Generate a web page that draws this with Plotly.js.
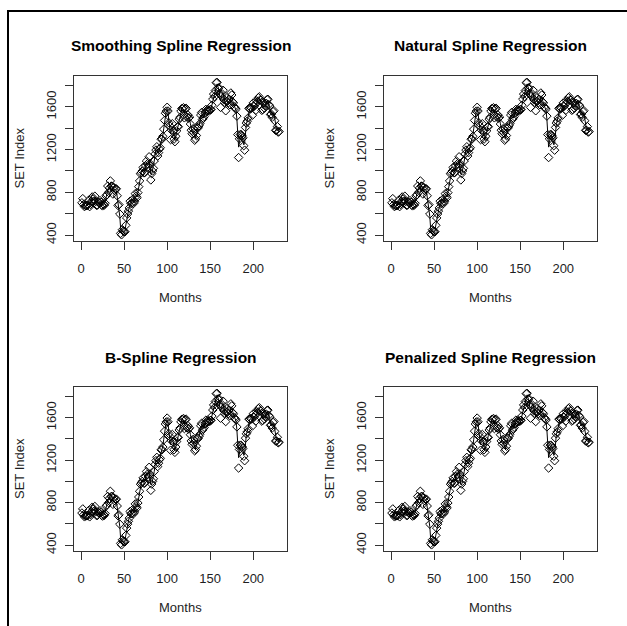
<!DOCTYPE html>
<html>
<head>
<meta charset="utf-8">
<script src="https://cdn.plot.ly/plotly-3.0.1.min.js"></script>
<style>
  html, body { margin: 0; padding: 0; background: #ffffff; }
  #chart { width: 627px; height: 626px; }
</style>
</head>
<body>
<div id="chart"></div>
<script>
// Monthly SET index values (months 1..230)
const setIndex = [
  702, 741, 685, 666, 676, 675, 676, 681, 727, 666, 688, 714,
  757, 737, 718, 764, 714, 678, 680, 707, 704, 723, 708, 680,
  673, 690, 680, 697, 767, 777, 859, 800, 840, 907, 858, 858,
  784, 845, 817, 832, 833, 768, 676, 685, 597, 416, 402, 450,
  437, 431, 431, 491, 560, 597, 624, 654, 717, 696, 697, 735,
  696, 712, 788, 763, 750, 797, 853, 907, 974, 985, 1000, 1033,
  983, 984, 1047, 1093, 1067, 1041, 1133, 1070, 916, 975, 1000, 1025,
  1094, 1160, 1196, 1227, 1140, 1172, 1205, 1218, 1298, 1299, 1324, 1392,
  1474, 1541, 1561, 1597, 1562, 1451, 1423, 1294, 1383, 1443, 1371, 1299,
  1274, 1325, 1376, 1415, 1415, 1485, 1502, 1561, 1585, 1584, 1593, 1498,
  1581, 1587, 1505, 1526, 1496, 1505, 1440, 1382, 1349, 1395, 1358, 1288,
  1301, 1332, 1408, 1404, 1424, 1444, 1524, 1548, 1483, 1496, 1510, 1543,
  1577, 1560, 1575, 1566, 1562, 1575, 1576, 1616, 1673, 1721, 1697, 1754,
  1827, 1830, 1776, 1780, 1727, 1596, 1701, 1722, 1756, 1669, 1642, 1564,
  1653, 1653, 1639, 1673, 1620, 1731, 1712, 1648, 1637, 1601, 1590, 1579,
  1514, 1341, 1126, 1301, 1342, 1340, 1329, 1311, 1237, 1195, 1408, 1449,
  1467, 1497, 1587, 1583, 1594, 1588, 1522, 1638, 1605, 1623, 1569, 1658,
  1648, 1686, 1695, 1667, 1663, 1568, 1576, 1639, 1589, 1609, 1635, 1669,
  1672, 1622, 1609, 1529, 1533, 1503, 1556, 1565, 1471, 1381, 1381, 1416,
  1364, 1370
];
const months = setIndex.map((_, i) => i + 1);

const panelTitles = [
  'Smoothing Spline Regression',
  'Natural Spline Regression',
  'B-Spline Regression',
  'Penalized Spline Regression'
];
const xTickVals = [0, 50, 100, 150, 200];
const yTickVals = [400, 600, 800, 1000, 1200, 1400, 1600, 1800];
const yTickText = ['400', '', '800', '', '1200', '', '1600', ''];
const xLabel = 'Months';
const yLabel = 'SET Index';

// light local regression fit of the series (drawn as the fitted curve)
function fit(arr) {
  return arr.map((v, i) => {
    const a = i > 0 ? arr[i - 1] : v;
    const b = i < arr.length - 1 ? arr[i + 1] : v;
    return 0.25 * a + 0.5 * v + 0.25 * b;
  });
}
const fitted = fit(setIndex);

const W = 627, H = 626;
const px = x => x / W;
const py = y => 1 - y / H;

const boxes = [
  { l: 74, r: 287, t: 76, b: 241 },
  { l: 384, r: 597, t: 76, b: 241 },
  { l: 74, r: 287, t: 387, b: 551 },
  { l: 384, r: 597, t: 387, b: 551 }
];

const font = 'Liberation Sans, Arial, Helvetica, sans-serif';
const ink = '#1e1e1e';
const data = [];
const layout = {
  width: W, height: H,
  margin: { l: 0, r: 0, t: 0, b: 0 },
  paper_bgcolor: '#ffffff',
  plot_bgcolor: '#ffffff',
  showlegend: false,
  font: { family: font, size: 13, color: ink },
  annotations: [],
  shapes: [
    { type: 'line', xref: 'paper', yref: 'paper', x0: px(8), x1: px(627), y0: py(11), y1: py(11),
      line: { color: '#000000', width: 2 } },
    { type: 'line', xref: 'paper', yref: 'paper', x0: px(8), x1: px(8), y0: py(10), y1: py(626),
      line: { color: '#000000', width: 2 } }
  ]
};

boxes.forEach((bx, k) => {
  const n = k + 1;
  const xa = n === 1 ? 'x' : 'x' + n;
  const ya = n === 1 ? 'y' : 'y' + n;
  const xk = n === 1 ? 'xaxis' : 'xaxis' + n;
  const yk = n === 1 ? 'yaxis' : 'yaxis' + n;

  data.push({
    x: months, y: fitted, xaxis: xa, yaxis: ya, type: 'scatter', mode: 'lines',
    line: { color: '#000000', width: 1 }, hoverinfo: 'skip', cliponaxis: true
  });
  data.push({
    x: months, y: setIndex, xaxis: xa, yaxis: ya, type: 'scatter', mode: 'markers',
    marker: { symbol: 'diamond-open', size: 6.5, color: '#000000', line: { width: 1, color: '#000000' } },
    cliponaxis: true
  });

  layout[xk] = {
    domain: [px(bx.l), px(bx.r)], anchor: ya,
    range: [-8.2, 239.2], autorange: false,
    showline: true, mirror: true, linecolor: '#333333', linewidth: 1,
    ticks: 'outside', ticklen: 8, tickcolor: '#333333', tickwidth: 1,
    tickvals: xTickVals, ticktext: xTickVals.map(String),
    tickfont: { family: font, size: 13, color: ink },
    ticklabelstandoff: 7,
    showgrid: false, zeroline: false, fixedrange: true
  };
  layout[yk] = {
    domain: [py(bx.b), py(bx.t)], anchor: xa,
    range: [344, 1890], autorange: false,
    showline: true, mirror: true, linecolor: '#333333', linewidth: 1,
    ticks: 'outside', ticklen: 8, tickcolor: '#333333', tickwidth: 1,
    tickvals: yTickVals, ticktext: yTickText, tickangle: -90,
    tickfont: { family: font, size: 13, color: ink },
    ticklabelstandoff: 4,
    showgrid: false, zeroline: false, fixedrange: true
  };

  const cx = (bx.l + bx.r) / 2;
  layout.annotations.push({
    xref: 'paper', yref: 'paper', x: px(cx), y: py(bx.t - 30),
    text: '<b>' + panelTitles[k] + '</b>', showarrow: false,
    xanchor: 'center', yanchor: 'middle',
    font: { family: font, size: 15.5, color: '#000000' }
  });
  layout.annotations.push({
    xref: 'paper', yref: 'paper', x: px(cx), y: py(bx.b + 56),
    text: xLabel, showarrow: false, xanchor: 'center', yanchor: 'middle',
    font: { family: font, size: 13, color: ink }
  });
  layout.annotations.push({
    xref: 'paper', yref: 'paper', x: px(bx.l - 55), y: py((bx.t + bx.b) / 2),
    text: yLabel, showarrow: false, textangle: -90, xanchor: 'center', yanchor: 'middle',
    font: { family: font, size: 13, color: ink }
  });
});

Plotly.newPlot('chart', data, layout, { staticPlot: true, displayModeBar: false });
</script>
</body>
</html>
